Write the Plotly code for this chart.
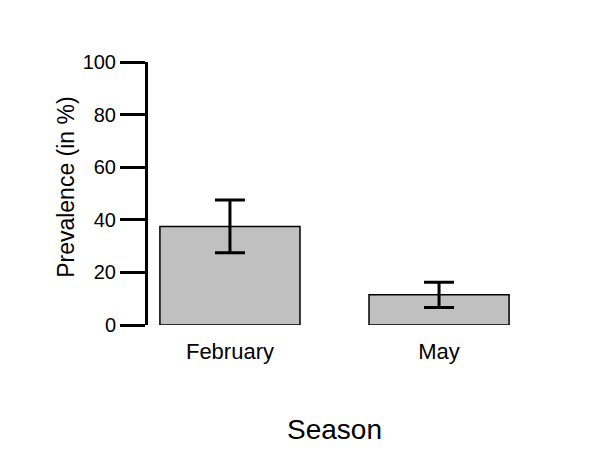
import plotly.graph_objects as go

seasons = ["February", "May"]
prevalence = [37.5, 11.5]
error = [10.0, 4.8]
y_ticks = [0, 20, 40, 60, 80, 100]

FONT = "Liberation Sans, Arial, sans-serif"

fig = go.Figure(
    go.Bar(
        x=seasons,
        y=prevalence,
        width=0.67,
        marker=dict(color="#c0c0c0", line=dict(color="black", width=1.5)),
        error_y=dict(type="data", array=error, visible=True,
                     color="black", thickness=3, width=15),
    )
)

fig.update_layout(
    width=608, height=463,
    margin=dict(l=148, r=87, t=62, b=138),
    paper_bgcolor="white", plot_bgcolor="white",
    font=dict(family=FONT, color="black"),
    showlegend=False,
    xaxis=dict(
        range=[-0.392, 1.392],
        showline=False, showgrid=False, zeroline=False,
        ticks="", tickfont=dict(size=22), ticklabelstandoff=11,
    ),
    yaxis=dict(
        range=[0, 100],
        tickvals=y_ticks,
        showline=True, linecolor="black", linewidth=3,
        ticks="outside", ticklen=25, tickwidth=3, tickcolor="black",
        showgrid=False, zeroline=False,
        tickfont=dict(size=20),
    ),
    annotations=[
        dict(text="Prevalence (in %)", xref="paper", yref="paper",
             x=-0.22, y=0.525, textangle=-90,
             xanchor="center", yanchor="middle", showarrow=False,
             font=dict(size=23, family=FONT)),
        dict(text="Season", xref="paper", yref="paper", x=0.5, y=-0.399,
             xanchor="center", yanchor="middle", showarrow=False,
             font=dict(size=28, family=FONT)),
    ],
)

fig.write_html("out.html")
